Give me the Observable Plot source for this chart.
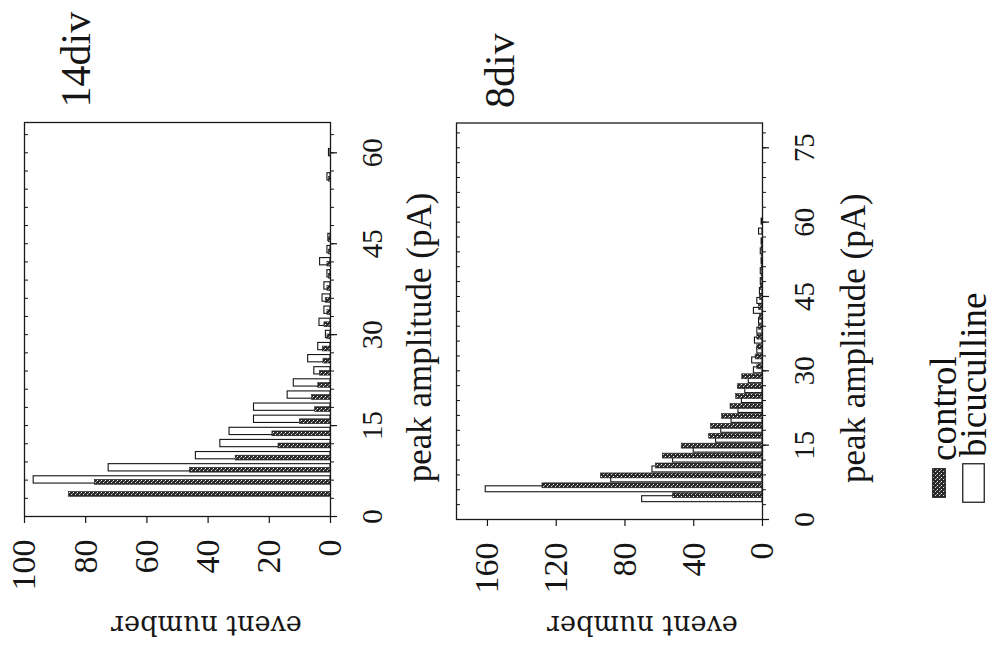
<!DOCTYPE html>
<html><head><meta charset="utf-8">
<script src="https://cdn.jsdelivr.net/npm/d3@7"></script>
<script src="https://cdn.jsdelivr.net/npm/@observablehq/plot@0.6"></script>
<style>
html,body{margin:0;padding:0;background:#fff;width:995px;height:661px;overflow:hidden}
#page{position:absolute;left:0;top:0;width:661px;height:995px;transform-origin:0 0;transform:translate(0px,661px) rotate(-90deg);background:#fff}
#page > svg{position:absolute;left:0;display:block;overflow:visible}
#page svg text{font-family:"Liberation Serif","Times New Roman",Tinos,"DejaVu Serif",serif}
#page svg text.ytitle{font-family:"DejaVu Serif",serif}
.leg{position:absolute;font-family:"Liberation Serif","Times New Roman",Tinos,"DejaVu Serif",serif;font-size:37px;color:#111;line-height:1;white-space:nowrap}
</style></head><body><div id="page"></div>
<script>
// ---- data ----
const amp14 = [4,6,8,10,12,14,16,18,20,22,24,26,28,30,32,34,36,38,40,42,44,46,56,60];
const control14 = [85.5,77,46,31,17,19,10,5,6,4,3.5,2.3,2.5,1,2,1,1.5,1,0.5,1,0.5,0.5,0.5,0];
const bicuculline14 = [0,97,72.5,44,36,33,25,25,14,12,5.3,7.3,4,1.5,3.6,2,2.6,2,1,3.4,1,0.7,1,0.5];

const amp8 = [5,7,9,11,13,15,17,19,21,23,25,27,29,31,33,35,37,39,41,43,45,47,49,51,53,55,57,59,61];
const control8 = [52,128,94,62,58,47,31,30,23.5,18.6,15.3,14.4,11.8,3,4,3,3,2,1.5,2,1.5,1,0.5,0.5,0.5,0.5,0,0,0];
const bicuculline8 = [70,161,88,64,52,40,27,24,18,14,12,10,8,5,6,3,4.4,3,2,5,3,1.5,1,1,0.5,1,0.5,2,0.5];

const ampTicks14 = [0,15,30,45,60];
const countTicks14 = [0,20,40,60,80,100];
const ampTicks8 = [0,15,30,45,60,75];
const countTicks8 = [0,40,80,120,160];
const panelNames = ["14div","8div"];
const seriesNames = ["control","bicuculline"];
const xTitle = "peak amplitude (pA)";
const yTitle = "event number";

const rows = (amp, ctrl, bic) => amp.map((c, i) => ({c, control: ctrl[i], bic: bic[i]}));

function patternDefs(id) {
  return `<defs><pattern id="${id}" width="4" height="4" patternUnits="userSpaceOnUse">
    <rect width="4" height="4" fill="#2a2a2a"/>
    <rect x="0" y="1" width="1" height="1" fill="#fff"/>
    <rect x="2" y="3" width="1" height="1" fill="#ddd"/>
    <rect x="3" y="0" width="1" height="1" fill="#888"/>
  </pattern></defs>`;
}

function panel(o) {
  const minor = d3.range(0, o.ampMax + 0.001, 3);
  const plotH = o.height - o.mt - o.mb;
  const svg = Plot.plot({
    width: 661, height: o.height,
    marginLeft: o.ml, marginRight: o.mr, marginTop: o.mt, marginBottom: o.mb,
    style: {background: "transparent", color: "#161616", overflow: "visible"},
    x: {domain: [0, o.ampMax], axis: null},
    y: {domain: [0, o.countMax], axis: null},
    marks: [
      Plot.rect(o.data.filter(d => d.bic > 0), {x1: d => d.c + o.bicOff[0], x2: d => d.c + o.bicOff[1], y1: d => 0, y2: "bic", fill: "white", stroke: "#151515", strokeWidth: 1.1}),
      Plot.rect(o.data.filter(d => d.control > 0), {x1: d => d.c + o.ctrlOff[0], x2: d => d.c + o.ctrlOff[1], y1: d => 0, y2: "control", fill: `url(#${o.pat})`, stroke: "#222", strokeWidth: 0.6}),
      Plot.frame({stroke: "#1a1a1a", strokeWidth: 1.3}),
      Plot.axisX({ticks: o.ampTicks, tickSize: 7, tickPadding: 24, fontSize: 29, tickFormat: d => String(d), label: null, strokeWidth: 1.2}),
      Plot.axisX({ticks: minor, tickSize: 4, tickFormat: () => "", label: null}),
      Plot.tickX(minor, {x: d => d, insetBottom: plotH - 4, stroke: "#151515"}),
      Plot.axisY({ticks: o.countTicks, tickSize: 6, tickPadding: 17, fontSize: 34, tickFormat: d => String(d), label: null, strokeWidth: 1.2}),
      Plot.text([xTitle], {text: d => d, frameAnchor: "bottom", textAnchor: "middle", dx: o.xtDx, dy: o.xtDy, fontSize: 35, lineAnchor: "middle"}),
      Plot.text([yTitle], {text: d => d, frameAnchor: "left", textAnchor: "middle", rotate: -90, dx: o.ytDx, dy: o.ytDy, fontSize: 27, lineAnchor: "middle", className: "ytitle"}),
      Plot.text([o.name], {text: d => d, frameAnchor: "top-right", textAnchor: "start", lineAnchor: "bottom", dx: o.nDx, dy: o.nDy, fontSize: 42})
    ]
  });
  svg.insertAdjacentHTML("afterbegin", patternDefs(o.pat));
  svg.querySelectorAll(".ytitle text").forEach(t => t.setAttribute("class", "ytitle"));
  svg.style.top = o.top + "px";
  return svg;
}

const page = document.getElementById("page");
page.appendChild(panel({
  data: rows(amp14, control14, bicuculline14), ampMax: 65, countMax: 100,
  ampTicks: ampTicks14, countTicks: countTicks14, name: panelNames[0], pat: "pat14",
  height: 440, top: 0, ml: 144, mr: 123, mt: 24, mb: 110,
  bicOff: [-0.4, 0.8], ctrlOff: [-0.6, 0.2],
  xtDx: -18, xtDy: 89, ytDx: -108, ytDy: 29, nDx: 15, nDy: 65
}));
page.appendChild(panel({
  data: rows(amp8, control8, bicuculline8), ampMax: 80, countMax: 178,
  ampTicks: ampTicks8, countTicks: countTicks8, name: panelNames[1], pat: "pat8",
  height: 555, top: 440, ml: 141, mr: 123.5, mt: 16, mb: 233,
  bicOff: [-1.3, -0.1], ctrlOff: [-0.5, 0.5],
  xtDx: -17, xtDy: 91, ytDx: -105, ytDy: 33, nDx: 15, nDy: 57
}));

// legend (below the lower panel in the original page orientation)
const legendItems = [
  {name: seriesNames[0], swatch: {left: 163, top: 932, w: 30, h: 14, fill: "url(#patleg)"}, text: {left: 200, top: 925}},
  {name: seriesNames[1], swatch: {left: 158, top: 962, w: 40, h: 23, fill: "#fff"}, text: {left: 204, top: 955}}
];
for (const it of legendItems) {
  const sw = document.createElementNS("http://www.w3.org/2000/svg", "svg");
  sw.setAttribute("width", it.swatch.w); sw.setAttribute("height", it.swatch.h);
  sw.style.position = "absolute"; sw.style.left = it.swatch.left + "px"; sw.style.top = it.swatch.top + "px";
  sw.innerHTML = patternDefs("patleg") + `<rect x="0.75" y="0.75" width="${it.swatch.w - 1.5}" height="${it.swatch.h - 1.5}" fill="${it.swatch.fill}" stroke="#222" stroke-width="1.3"/>`;
  page.appendChild(sw);
  const t = document.createElement("div");
  t.className = "leg"; t.textContent = it.name;
  t.style.left = it.text.left + "px"; t.style.top = it.text.top + "px";
  page.appendChild(t);
}
</script></body></html>
